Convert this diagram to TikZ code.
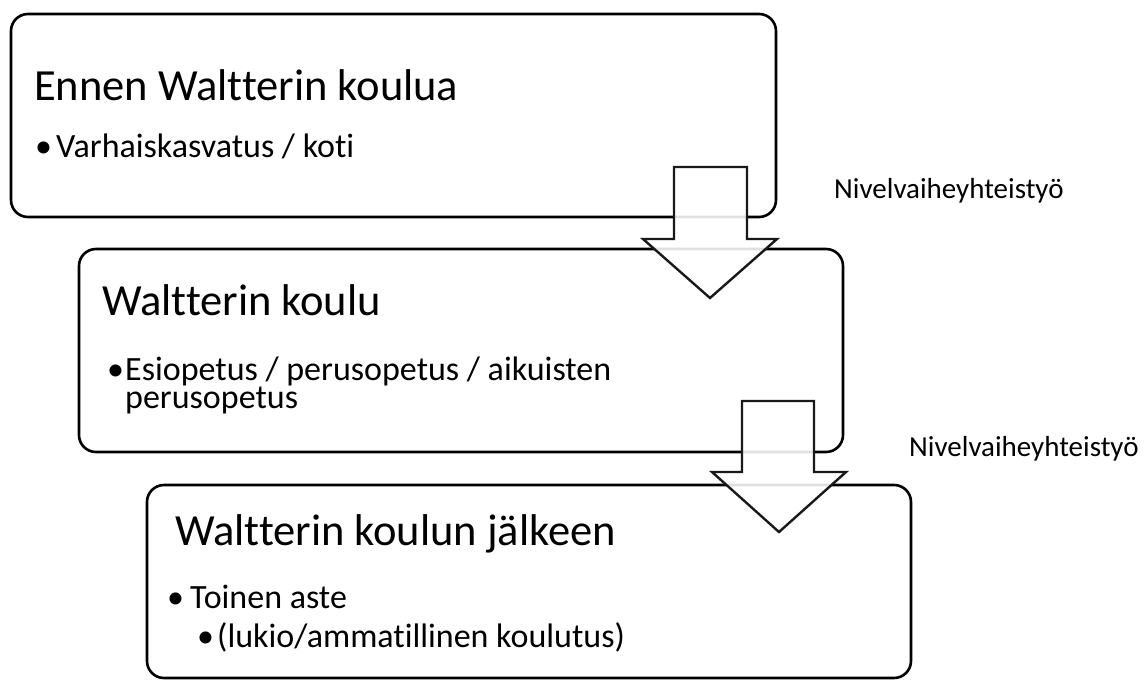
\documentclass[tikz,border=0pt]{standalone}
\usepackage{fontspec}
\setmainfont{Carlito}[Ligatures=NoCommon]
\begin{document}
\begin{tikzpicture}[x=1pt,y=-1pt,
  box/.style={draw=black,line width=2.6pt,fill=white,rounded corners=17pt},
  blockarrow/.style={draw=black!90,line width=2.4pt,fill=white,fill opacity=0.88,line join=miter},
  title/.style={anchor=base west,inner sep=0pt,font=\fontsize{44.5}{44.5}\selectfont},
  item/.style={anchor=base west,inner sep=0pt,font=\fontsize{34}{34}\selectfont},
  lab/.style={anchor=base west,inner sep=0pt,font=\fontsize{29}{29}\selectfont}]
\useasboundingbox (0,0) rectangle (1144,680);
% boxes
\draw[box] (11,14) rectangle (776,217);
\draw[box] (79,249) rectangle (843,452);
\draw[box] (147,485) rectangle (911,678);
% box 1 text
\node[title] (t1) at (34,100) {Ennen Waltterin koulua};
\node[item] (b1) at (35,157) {•};
\node[item] (i1) at (56,157) {Varhaiskasvatus / koti};
% box 2 text
\node[title] (t2) at (102,315) {Waltterin koulu};
\node[item] (b2) at (107,380) {•};
\node[item] (i2a) at (125,380) {Esiopetus / perusopetus / aikuisten};
\node[item] (i2b) at (125,408) {perusopetus};
% box 3 text
\node[title] (t3) at (175,545) {Waltterin koulun jälkeen};
\node[item] (b3) at (167,608) {•};
\node[item] (i3) at (190,608) {Toinen aste};
\node[item] (b4) at (197,647) {•};
\node[item] (i4) at (217,647) {(lukio/ammatillinen koulutus)};
% arrows
\draw[blockarrow] (674,167) -- (747,167) -- (747,239) -- (777,239) -- (710,298) -- (643,239) -- (674,239) -- cycle;
\draw[blockarrow] (742,401) -- (814,401) -- (814,472) -- (846,472) -- (779,532) -- (712,472) -- (742,472) -- cycle;
% labels
\node[lab] (l1) at (834,198) {Nivelvaiheyhteistyö};
\node[lab] (l2) at (909,456) {Nivelvaiheyhteistyö};
\end{tikzpicture}
\end{document}
